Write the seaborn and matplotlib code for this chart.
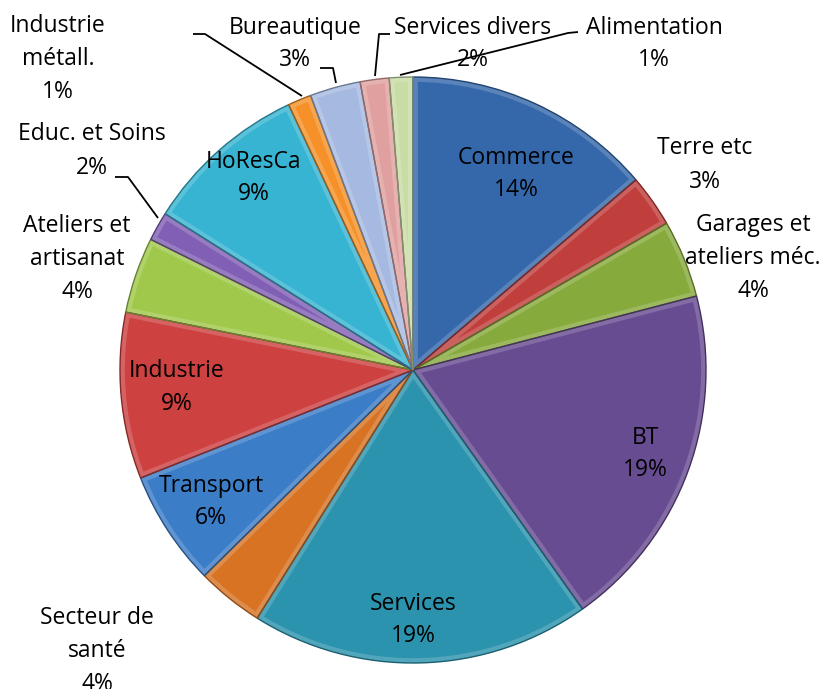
import matplotlib
matplotlib.use("Agg")
import matplotlib.pyplot as plt
import matplotlib.colors as mcolors
from matplotlib.patches import Wedge
import seaborn as sns

# ---- data -------------------------------------------------------------
categories = ["Commerce", "Terre etc", "Garages et\nateliers méc.", "BT", "Services",
              "Secteur de\nsanté", "Transport", "Industrie", "Ateliers et\nartisanat",
              "Educ. et Soins", "HoResCa", "Industrie\nmétall.", "Bureautique",
              "Services divers", "Alimentation"]
shares = [13.8, 2.9, 4.3, 19.3, 18.8, 3.7, 6.4, 9.2, 4.2, 1.6, 9.1, 1.3, 2.8, 1.6, 1.3]

# ---- style ------------------------------------------------------------
colors = ["#3468AA", "#C03E3C", "#87AA3C", "#684C91", "#2B93AD",
          "#D77323", "#3C7DC8", "#CD4141", "#A0C84B", "#805FB4",
          "#37B4D2", "#F59128", "#A5B9E1", "#E1A0A0", "#C8DCA5"]
W, H = 828, 689
CX, CY, R = 413, 370, 293
# label centres in pixel coordinates (x, y from top)
label_pos = [(516, 174), (705, 165), (753, 258), (645, 454), (413, 620),
             (97, 651), (211, 502), (177, 388), (77, 259), (92, 151),
             (254, 178), (58, 59), (295, 44), (473, 44), (654, 44)]
# leader lines (pixel coordinates)
leaders = [None, None, None, None, None, None, None, None, None,
           [(115, 177), (128, 177), (158, 218)],
           None,
           [(193, 34), (205, 34), (302, 96)],
           [(320, 68), (333, 68), (336, 83)],
           [(390, 34), (379, 34), (375, 76)],
           [(578, 32), (568, 33), (400, 75)]]

sns.set_theme(style="white")
plt.rcParams["font.family"] = ["Open Sans", "DejaVu Sans"]

fig = plt.figure(figsize=(W / 100, H / 100), dpi=100)
ax = fig.add_axes([0, 0, 1, 1])


def P(x, y):
    return x, H - y


total = sum(shares)
wedges, _ = ax.pie(shares, colors=colors, startangle=90, counterclock=False,
                   center=P(CX, CY), radius=R, frame=True,
                   wedgeprops=dict(linewidth=0))

for w, c in zip(wedges, colors):
    rgb = mcolors.to_rgb(c)
    light = tuple(v + (1 - v) * 0.18 for v in rgb)
    dark = tuple(v * 0.65 for v in rgb)
    band = Wedge(w.center, w.r, w.theta1, w.theta2, facecolor="none",
                 edgecolor=light, linewidth=7, zorder=2)
    ax.add_patch(band)
    band.set_clip_path(w)
    edge = Wedge(w.center, w.r, w.theta1, w.theta2, facecolor="none",
                 edgecolor=dark, linewidth=1.0, zorder=3)
    ax.add_patch(edge)

for name, v, (lx, ly) in zip(categories, shares, label_pos):
    pct = round(v / total * 100)
    ax.text(*P(lx, ly), f"{name}\n{pct}%", ha="center", va="center",
            fontsize=16.5, color="black", linespacing=1.5, zorder=5)

for pts in leaders:
    if pts:
        xs = [p[0] for p in pts]
        ys = [H - p[1] for p in pts]
        ax.plot(xs, ys, color="black", linewidth=1.3, zorder=4,
                solid_capstyle="butt")

ax.set_xlim(0, W)
ax.set_ylim(0, H)
ax.set_aspect("equal")
ax.axis("off")
fig.savefig("out.png", dpi=100)
